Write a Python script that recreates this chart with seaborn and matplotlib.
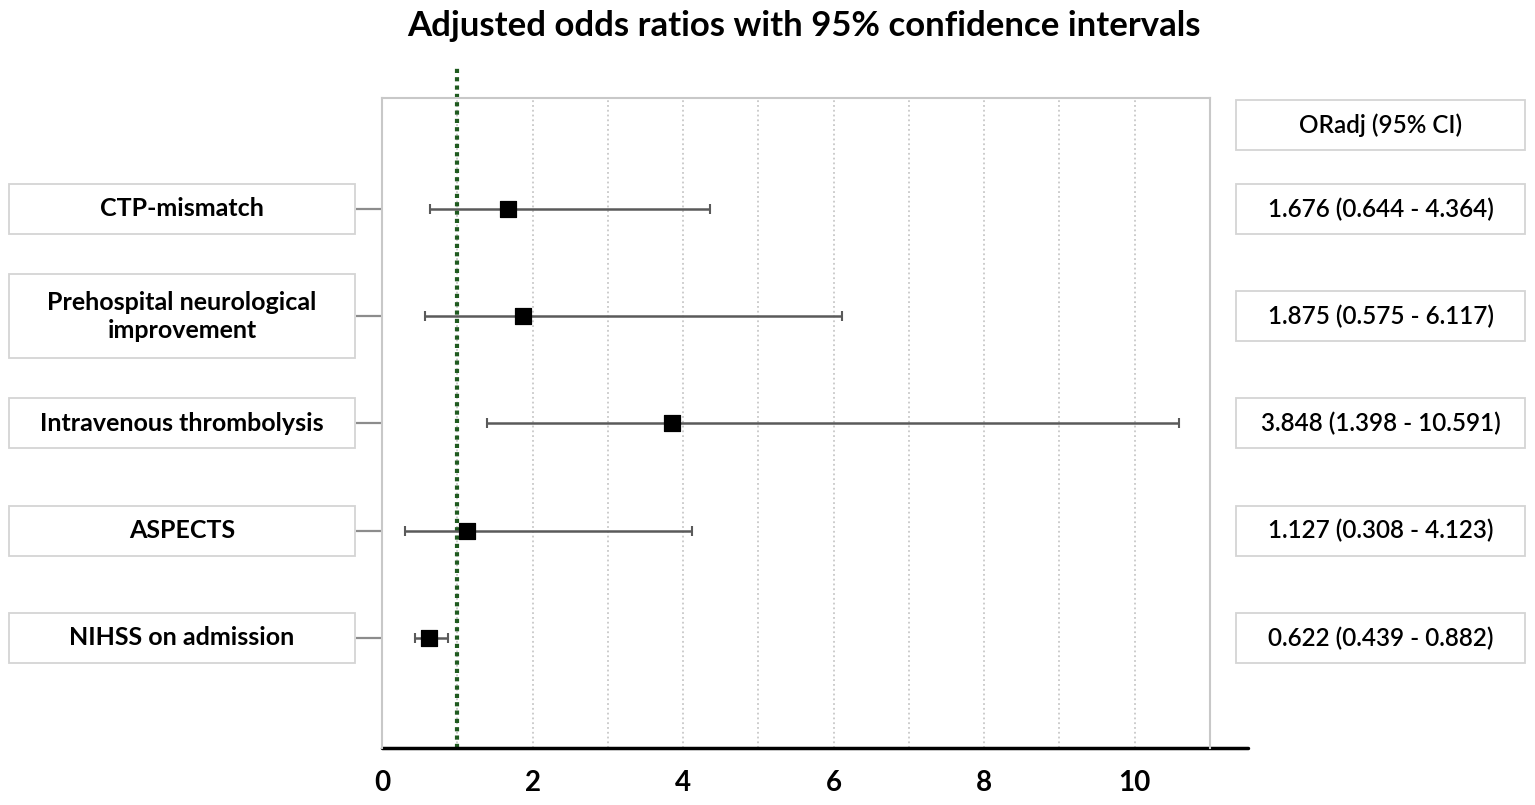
import numpy as np
import pandas as pd
import seaborn as sns
import matplotlib.pyplot as plt
import matplotlib.transforms as mtransforms
from matplotlib.patches import Rectangle
from matplotlib.ticker import MultipleLocator

# Data
factors = ["CTP-mismatch", "Prehospital neurological\nimprovement",
           "Intravenous thrombolysis", "ASPECTS", "NIHSS on admission"]
or_adj = [1.676, 1.875, 3.848, 1.127, 0.622]
ci_low = [0.644, 0.575, 1.398, 0.308, 0.439]
ci_high = [4.364, 6.117, 10.591, 4.123, 0.882]
x_ticks = [0, 2, 4, 6, 8, 10]

df = pd.DataFrame({"factor": factors, "or": or_adj, "low": ci_low, "high": ci_high})
df["pos"] = np.arange(len(df))
df["label"] = [f"{o:.3f} ({l:.3f} - {h:.3f})" for o, l, h in zip(df["or"], df["low"], df["high"])]

sns.set_theme(style="white")
plt.rcParams["font.family"] = ["Lato", "DejaVu Sans"]
plt.rcParams["text.color"] = "black"
plt.rcParams["xtick.color"] = "black"

W, H = 1535, 805
fig = plt.figure(figsize=(W / 100, H / 100), dpi=100)
ax = fig.add_axes([382 / W, 1 - 748 / H, (1210 - 382) / W, (748 - 98) / H])

# confidence intervals and point estimates
ax.errorbar(df["or"], df["pos"], xerr=[df["or"] - df["low"], df["high"] - df["or"]],
            fmt="none", ecolor="#5a5a5a", elinewidth=1.8, capsize=3.5, capthick=1.5, zorder=3)
sns.scatterplot(data=df, x="or", y="pos", marker="s", color="black", edgecolor="black",
                s=120, ax=ax, zorder=4, legend=False)

# reference line at OR = 1
ax.axvline(1, ymin=0, ymax=1.051, color="#1f5a1f", lw=3, linestyle=(0, (1, 1)),
           clip_on=False, zorder=2)

ax.set_xlim(0, 11)
ax.set_ylim(4 + 1.026, -1.035)
ax.set_xticks(x_ticks)
ax.set_xticklabels([str(t) for t in x_ticks], fontsize=20, weight="bold")
ax.xaxis.set_minor_locator(MultipleLocator(1))
ax.grid(axis="x", which="both", color="#c8c8c8", linestyle=":", lw=1.3)
ax.tick_params(axis="x", which="both", length=0, pad=16)
ax.set_yticks(df["pos"])
ax.tick_params(axis="y", length=19, width=1.6, color="#8c8c8c", direction="out", labelleft=False, left=True)
ax.set_xlabel("")
ax.set_ylabel("")

for side in ["left", "top", "right"]:
    ax.spines[side].set_color("#c8c8c8")
    ax.spines[side].set_linewidth(1.5)
ax.spines["bottom"].set_visible(False)
ax.axhline(4 + 1.026, xmin=0, xmax=(1248 - 382) / (1210 - 382), color="black", lw=2.5, clip_on=False)

# label boxes on both sides
blend = mtransforms.blended_transform_factory(fig.transFigure, ax.transData)
px_per_row = 107.25


def box(x0, x1, y, h_px, text, **kw):
    h = h_px / px_per_row
    ax.add_patch(Rectangle((x0 / W, y - h / 2), (x1 - x0) / W, h, transform=blend,
                           fill=True, fc="white", ec="#d4d4d4", lw=1.3, clip_on=False))
    ax.text((x0 + x1) / 2 / W, y, text, transform=blend, ha="center", va="center",
            clip_on=False, linespacing=1.25, color="black", **kw)


for _, r in df.iterrows():
    h_px = 84 if "\n" in r["factor"] else 50
    box(9, 355, r["pos"], h_px, r["factor"], fontsize=18, weight="bold")
    box(1236, 1525, r["pos"], 50, r["label"], fontsize=17.5, weight="semibold")

box(1236, 1525, -0.78, 50, "ORadj (95% CI)", fontsize=17.5, weight="semibold")

fig.text(804 / W, 1 - 26 / H, "Adjusted odds ratios with 95% confidence intervals",
         ha="center", va="center", fontsize=25, weight="bold", color="black")

fig.savefig("out.png", dpi=100)
